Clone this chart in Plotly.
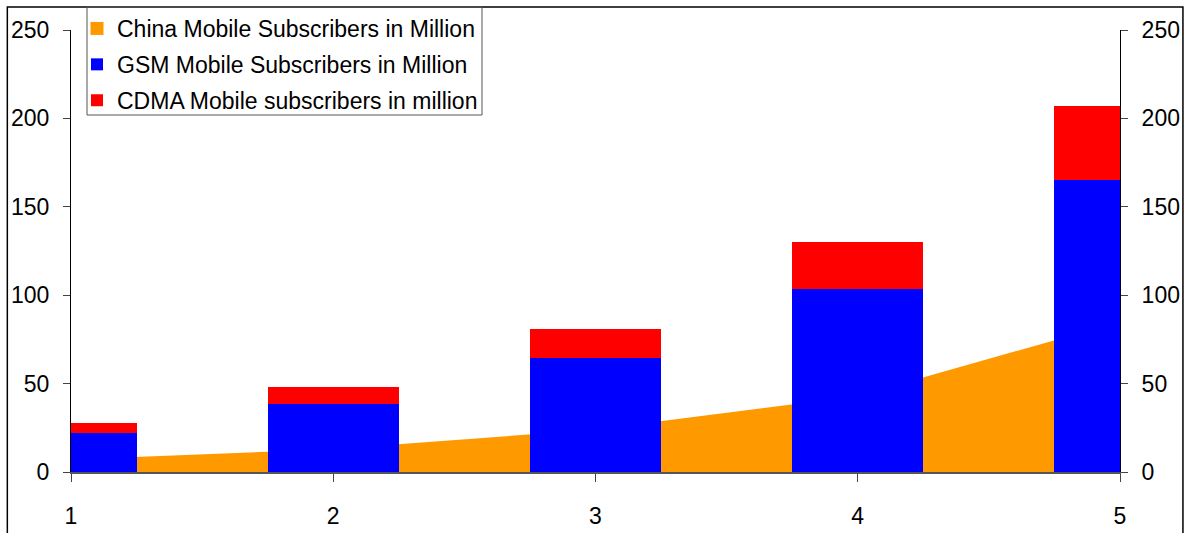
import plotly.graph_objects as go

categories = [1, 2, 3, 4, 5]
china_mobile = [7, 13, 24, 43, 85]
gsm = [22, 38.5, 64.6, 103.5, 165]
cdma = [5.5, 9.5, 16.3, 26.5, 42]
tick_vals = [0, 50, 100, 150, 200, 250]

ORANGE = "#FF9900"
BLUE = "#0000FF"
RED = "#FF0000"
FONT = "Liberation Sans, Arial, sans-serif"

fig = go.Figure()
# area (drawn under bars)
fig.add_trace(go.Scatter(x=categories, y=china_mobile, mode="lines", fill="tozeroy",
                         fillcolor=ORANGE, line=dict(width=0, color=ORANGE),
                         showlegend=False, hoverinfo="skip", yaxis="y"))
# legend entry for the area
fig.add_trace(go.Scatter(x=[None], y=[None], mode="markers", name="China Mobile Subscribers in Million",
                         marker=dict(symbol="square", size=13, color=ORANGE), yaxis="y",
                         legendgroup="a"))
fig.add_trace(go.Bar(x=categories, y=gsm, name="GSM Mobile Subscribers in Million",
                     marker=dict(color=BLUE, line=dict(width=0)), width=0.5, yaxis="y2",
                     legendgroup="b"))
fig.add_trace(go.Bar(x=categories, y=cdma, name="CDMA Mobile subscribers in million",
                     marker=dict(color=RED, line=dict(width=0)), width=0.5, yaxis="y2",
                     legendgroup="c"))

# paper area: x 71..1120, y 7..472 ; plot top at 30
YTOP = (472 - 30) / (472 - 7)

axis_common = dict(range=[0, 250], tickvals=tick_vals, showgrid=False, zeroline=False,
                   showline=True, linecolor="black", linewidth=1, ticks="outside",
                   ticklen=7, tickcolor="#444", tickfont=dict(size=23, color="black", family=FONT),
                   ticklabelstandoff=9, fixedrange=True, automargin=False, domain=[0, YTOP])

fig.update_layout(
    width=1185, height=533,
    margin=dict(l=71, r=65, t=7, b=61, autoexpand=False),
    paper_bgcolor="white", plot_bgcolor="white",
    barmode="stack",
    font=dict(family=FONT, color="black"),
    xaxis=dict(range=[1, 5], tickvals=categories, showgrid=False, zeroline=False,
               showline=True, linecolor="#555", linewidth=1.5, ticks="outside", ticklen=8,
               tickcolor="#444", tickfont=dict(size=23, color="black", family=FONT),
               ticklabelstandoff=15, automargin=False),
    yaxis=dict(side="left", **axis_common),
    yaxis2=dict(side="right", overlaying="y", **axis_common),
    legend=dict(x=(77 - 71) / 1049, y=1.0, xanchor="left", yanchor="top",
                bgcolor="rgba(0,0,0,0)", borderwidth=0,
                font=dict(size=23, family=FONT, color="black"),
                itemwidth=30, traceorder="grouped", tracegroupgap=3),
    shapes=[
        dict(type="rect", xref="paper", yref="paper", x0=-0.0607, x1=1.060,
             y0=-0.3, y1=1.0, line=dict(color="black", width=1.5), layer="below"),
        dict(type="rect", xref="paper", yref="paper", x0=(87 - 71) / 1049, x1=(482 - 71) / 1049,
             y0=(472 - 115) / 465, y1=1.0, line=dict(color="#555", width=1), layer="above"),
    ],
)

fig.write_html("out.html")
